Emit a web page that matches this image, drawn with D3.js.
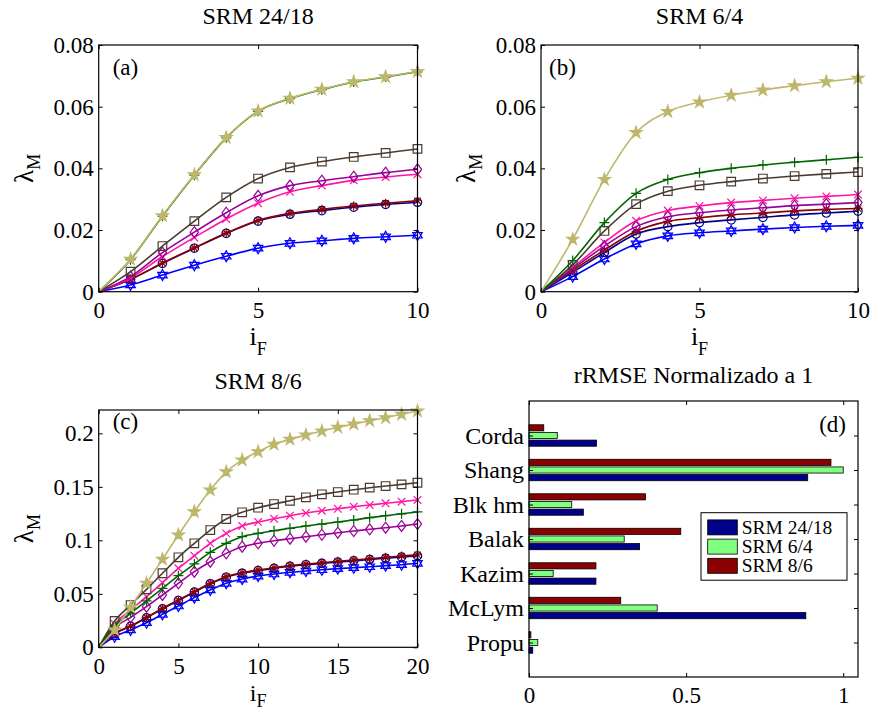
<!DOCTYPE html>
<html>
<head>
<meta charset="utf-8">
<script src="https://d3js.org/d3.v7.min.js"></script>
</head>
<body style="margin:0;background:#fff">
<svg id="chart" width="875" height="713" style="font-family:'Liberation Serif',serif"></svg>
<script>
// ---- data ----
var xTen = d3.range(0, 11);
var xTwenty = d3.range(0, 21);

// (a) SRM 24/18
var aHex     = [0, .0022, .0054, .0086, .0115, .0141, .0157, .0165, .0173, .0178, .0183];
var aCircle  = [0, .0040, .0092, .0141, .0189, .0229, .0251, .0263, .0274, .0283, .0290];
var aAster   = [0, .0040, .0093, .0142, .0190, .0231, .0254, .0267, .0278, .0287, .0295];
var aCross   = [0, .0044, .0114, .0176, .0236, .0287, .0324, .0344, .0361, .0372, .0381];
var aDiamond = [0, .0049, .0127, .0193, .0256, .0311, .0344, .0360, .0373, .0386, .0397];
var aSquare  = [0, .0065, .0148, .0229, .0306, .0367, .0403, .0422, .0437, .0450, .0463];
var aPlus    = [0, .0104, .0245, .0378, .0499, .0585, .0626, .0655, .0680, .0696, .0713];
var aPenta   = [0, .0105, .0246, .0379, .0500, .0586, .0627, .0656, .0681, .0697, .0714];

// (b) SRM 6/4
var bHex     = [0, .0049, .0106, .0155, .0181, .0191, .0197, .0203, .0208, .0212, .0215];
var bCircle  = [0, .0063, .0127, .0187, .0211, .0224, .0233, .0241, .0249, .0255, .0261];
var bAster   = [0, .0069, .0135, .0196, .0228, .0240, .0249, .0255, .0262, .0267, .0270];
var bCross   = [0, .0079, .0160, .0230, .0263, .0278, .0289, .0296, .0303, .0309, .0315];
var bDiamond = [0, .0074, .0148, .0211, .0243, .0256, .0265, .0272, .0279, .0284, .0289];
var bSquare  = [0, .0087, .0197, .0284, .0326, .0345, .0357, .0367, .0375, .0382, .0388];
var bPlus    = [0, .0101, .0224, .0319, .0364, .0386, .0400, .0411, .0420, .0428, .0436];
var bPenta   = [0, .0170, .0364, .0516, .0584, .0615, .0637, .0654, .0668, .0681, .0692];

// (c) SRM 8/6
var cHex     = [0, .0099, .0162, .0230, .0308, .0386, .0464, .0536, .0598, .0638, .0666, .0685, .0701, .0713, .0725, .0735, .0744, .0753, .0763, .0772, .0785];
var cCircle  = [0, .0128, .0196, .0276, .0360, .0438, .0516, .0594, .0655, .0692, .0717, .0738, .0757, .0772, .0784, .0796, .0808, .0820, .0832, .0843, .0854];
var cAster   = [0, .0131, .0199, .0280, .0364, .0442, .0520, .0598, .0660, .0697, .0722, .0744, .0763, .0779, .0791, .0804, .0816, .0828, .0841, .0853, .0865];
var cCross   = [0, .0218, .0349, .0473, .0604, .0738, .0856, .0972, .1065, .1134, .1171, .1202, .1230, .1255, .1277, .1295, .1314, .1330, .1346, .1361, .1377];
var cDiamond = [0, .0183, .0280, .0380, .0489, .0598, .0707, .0800, .0878, .0940, .0972, .0996, .1015, .1034, .1052, .1071, .1087, .1103, .1118, .1134, .1152];
var cSquare  = [0, .0246, .0395, .0542, .0692, .0841, .0972, .1096, .1199, .1262, .1305, .1339, .1370, .1402, .1430, .1451, .1473, .1492, .1507, .1523, .1538];
var cPlus    = [0, .0202, .0318, .0433, .0551, .0669, .0779, .0888, .0972, .1034, .1065, .1090, .1112, .1134, .1152, .1171, .1190, .1212, .1230, .1248, .1265];
var cPenta   = [0, .0162, .0374, .0598, .0822, .1050, .1267, .1470, .1640, .1750, .1828, .1897, .1944, .1984, .2021, .2056, .2087, .2118, .2146, .2178, .2208];

// (d) rRMSE, categories bottom -> top
var categories = ["Propu", "McLym", "Kazim", "Balak", "Blk hm", "Shang", "Corda"];
var rrmse2418 = [0.012, 0.881, 0.213, 0.352, 0.173, 0.887, 0.215];
var rrmse64   = [0.028, 0.408, 0.077, 0.303, 0.136, 1.000, 0.090];
var rrmse86   = [0.006, 0.292, 0.213, 0.483, 0.371, 0.961, 0.047];
var barNames  = ["SRM 24/18", "SRM 6/4", "SRM 8/6"];

// ---- styles (same order as the series lists) ----
var lineStyles = [
    { color: "#0000ff", marker: "hexagram" },
    { color: "#00008b", marker: "circle" },
    { color: "#8b0000", marker: "asterisk" },
    { color: "#ff14a5", marker: "cross" },
    { color: "#990099", marker: "diamond" },
    { color: "#4a3b30", marker: "square" },
    { color: "#006400", marker: "plus" },
    { color: "#bdb76b", marker: "pentagram" }
];
var barColors = ["#00008b", "#80ff80", "#8b0000"];
var serif = "'Liberation Serif', serif";
var tickFont = 23;

var svg = d3.select("#chart");

// marker path centred on 0,0
function markerPath(type) {
    var r;
    if (type == "hexagram") {
        r = 5.5;
        var tri = function (angs) {
            return "M" + angs.map(function (a) {
                var t = a * Math.PI / 180;
                return (r * Math.cos(t)).toFixed(2) + "," + (r * Math.sin(t)).toFixed(2);
            }).join("L") + "Z";
        };
        return tri([-90, 30, 150]) + tri([90, 210, 330]);
    }
    else if (type == "circle") {
        r = 4.2;
        return "M" + r + ",0A" + r + "," + r + " 0 1,1 " + (-r) + ",0A" + r + "," + r + " 0 1,1 " + r + ",0Z";
    }
    else if (type == "asterisk") {
        r = 4.5; var k = r * 0.7;
        return "M0," + (-r) + "V" + r + "M" + (-r) + ",0H" + r +
            "M" + (-k) + "," + (-k) + "L" + k + "," + k + "M" + k + "," + (-k) + "L" + (-k) + "," + k;
    }
    else if (type == "cross") {
        r = 3.8;
        return "M" + (-r) + "," + (-r) + "L" + r + "," + r + "M" + r + "," + (-r) + "L" + (-r) + "," + r;
    }
    else if (type == "diamond") {
        r = 5.5;
        return "M0," + (-r) + "L" + (r * 0.75) + ",0L0," + r + "L" + (-r * 0.75) + ",0Z";
    }
    else if (type == "square") {
        r = 4.3;
        return "M" + (-r) + "," + (-r) + "H" + r + "V" + r + "H" + (-r) + "Z";
    }
    else if (type == "pentagram") {
        return d3.symbol(d3.symbolStar, 45)();
    }
    else if (type == "plus") {
        r = 5;
        return "M0," + (-r) + "V" + r + "M" + (-r) + ",0H" + r;
    }
}

// frame + inward ticks on all four sides
function drawFrame(g, x, y, w, h, xTicks, yTicks, xFmt, yFmt) {
    var bottom = g.append("g").attr("transform", "translate(0," + h + ")")
        .call(d3.axisBottom(x).tickValues(xTicks).tickFormat(xFmt).tickSizeInner(-4).tickSizeOuter(0).tickPadding(10));
    var top = g.append("g")
        .call(d3.axisTop(x).tickValues(xTicks).tickFormat("").tickSizeInner(-4).tickSizeOuter(0));
    var left = g.append("g")
        .call(d3.axisLeft(y).tickValues(yTicks).tickFormat(yFmt).tickSizeInner(-4).tickSizeOuter(0).tickPadding(5));
    var right = g.append("g").attr("transform", "translate(" + w + ",0)")
        .call(d3.axisRight(y).tickValues(yTicks).tickFormat("").tickSizeInner(-4).tickSizeOuter(0));
    [bottom, top, left, right].forEach(function (a) {
        a.select(".domain").remove();
        a.selectAll("line").attr("stroke", "#000").attr("stroke-width", 1);
        a.attr("font-family", null).attr("font-size", null);
        a.selectAll("text").attr("fill", "#000").style("font-size", tickFont + "px");
    });
    g.append("rect").attr("width", w).attr("height", h)
        .attr("fill", "none").attr("stroke", "#000").attr("stroke-width", 1.2);
}

function linePanel(box, xs, seriesList, yMax, yTicks, yFmt, xTicks, title, tag, tagPos) {
    var w = box.right - box.left, h = box.bottom - box.top;
    var g = svg.append("g").attr("transform", "translate(" + box.left + "," + box.top + ")");
    var x = d3.scaleLinear().domain([0, xs[xs.length - 1]]).range([0, w]);
    var y = d3.scaleLinear().domain([0, yMax]).range([h, 0]);

    g.append("rect").attr("width", w).attr("height", h).attr("fill", "#fff");

    var line = d3.line()
        .x(function (d, i) { return x(xs[i]); })
        .y(function (d) { return y(d); })
        .curve(d3.curveMonotoneX);

    seriesList.forEach(function (vals, si) {
        var st = lineStyles[si];
        g.append("path").datum(vals)
            .attr("d", line)
            .attr("fill", "none")
            .attr("stroke", st.color)
            .attr("stroke-width", 1.6);
        g.selectAll(".m" + si).data(vals.slice(1))
            .enter().append("path")
            .attr("class", "m" + si)
            .attr("transform", function (d, i) { return "translate(" + x(xs[i + 1]) + "," + y(d) + ")"; })
            .attr("d", markerPath(st.marker))
            .attr("fill", st.marker == "pentagram" ? st.color : "none")
            .attr("stroke", st.color)
            .attr("stroke-width", 1.2);
    });

    drawFrame(g, x, y, w, h, xTicks, yTicks, d3.format("d"), yFmt);

    // titles and labels
    svg.append("text").attr("x", (box.left + box.right) / 2).attr("y", box.top - 21)
        .attr("text-anchor", "middle").style("font-size", "24px").text(title);
    g.append("text").attr("x", tagPos[0]).attr("y", tagPos[1]).style("font-size", "23px").text(tag);

    var yl = svg.append("text")
        .attr("transform", "translate(" + (box.left - 66) + "," + ((box.top + box.bottom) / 2) + ") rotate(-90)")
        .attr("text-anchor", "middle").style("font-size", "27px");
    yl.append("tspan").text("λ");
    yl.append("tspan").attr("dy", 7).style("font-size", "18px").text("M");

    var xl = svg.append("text")
        .attr("x", (box.left + box.right) / 2).attr("y", box.bottom + box.xlab)
        .attr("text-anchor", "middle").style("font-size", box.xfs + "px");
    xl.append("tspan").text("i");
    xl.append("tspan").attr("dy", box.sub).style("font-size", "18px").text("F");
}

function trimZero(v) { return v === 0 ? "0" : String(+v.toFixed(2)); }
function twoDec(v) { return v === 0 ? "0" : v.toFixed(2); }

linePanel({ left: 98.7, right: 417.5, top: 45, bottom: 291.7, xlab: 53, sub: 10, xfs: 26 }, xTen,
    [aHex, aCircle, aAster, aCross, aDiamond, aSquare, aPlus, aPenta],
    0.08, [0, 0.02, 0.04, 0.06, 0.08], twoDec,
    [0, 5, 10], "SRM 24/18", "(a)", [14, 30]);

linePanel({ left: 541, right: 858, top: 45, bottom: 291.7, xlab: 53, sub: 10, xfs: 26 }, xTen,
    [bHex, bCircle, bAster, bCross, bDiamond, bSquare, bPlus, bPenta],
    0.08, [0, 0.02, 0.04, 0.06, 0.08], twoDec,
    [0, 5, 10], "SRM 6/4", "(b)", [8, 30]);

linePanel({ left: 98.7, right: 417.5, top: 410, bottom: 647.3, xlab: 54, sub: 6, xfs: 24 }, xTwenty,
    [cHex, cCircle, cAster, cCross, cDiamond, cSquare, cPlus, cPenta],
    0.2218, [0, 0.05, 0.1, 0.15, 0.2], trimZero,
    [0, 5, 10, 15, 20], "SRM 8/6", "(c)", [14, 19]);

// ---- (d) grouped horizontal bars ----
var dBox = { left: 529, right: 858, top: 401, bottom: 677 };
var dW = dBox.right - dBox.left, dH = dBox.bottom - dBox.top;
var dg = svg.append("g").attr("transform", "translate(" + dBox.left + "," + dBox.top + ")");
var xd = d3.scaleLinear().domain([0, 1.047]).range([0, dW]);
var yd = d3.scaleLinear().domain([0, categories.length + 1]).range([dH, 0]);
var barSets = [rrmse2418, rrmse64, rrmse86];
var slot = 0.222, barH = 0.178;

barSets.forEach(function (vals, si) {
    dg.selectAll(".bar" + si).data(vals)
        .enter().append("rect")
        .attr("class", "bar" + si)
        .attr("x", xd(0))
        .attr("y", function (d, i) { return yd(i + 1 + (si - 1) * slot + barH / 2); })
        .attr("width", function (d) { return xd(d) - xd(0); })
        .attr("height", yd(0) - yd(barH))
        .attr("fill", barColors[si])
        .attr("stroke", "#000")
        .attr("stroke-width", 0.8);
});

drawFrame(dg, xd, yd, dW, dH, [0, 0.5, 1], d3.range(1, categories.length + 1),
    function (v) { return v === 0 ? "0" : String(v); },
    function (v) { return categories[v - 1]; });
dg.selectAll("text").filter(function () { return categories.indexOf(this.textContent) >= 0; })
    .style("font-size", "24px");

svg.append("text").attr("x", (dBox.left + dBox.right) / 2).attr("y", 383)
    .attr("text-anchor", "middle").style("font-size", "24px").text("rRMSE Normalizado a 1");
dg.append("text").attr("x", dW - 12).attr("y", 31).attr("text-anchor", "end")
    .style("font-size", "23px").text("(d)");

// legend
var lg = dg.append("g").attr("transform", "translate(" + (701 - dBox.left) + "," + (512.7 - dBox.top) + ")");
lg.append("rect").attr("width", 146).attr("height", 67.5)
    .attr("fill", "#fff").attr("stroke", "#000").attr("stroke-width", 1);
barNames.forEach(function (name, i) {
    var cy = 14.7 + i * 19.2;
    lg.append("rect").attr("x", 6.7).attr("y", cy - 7.5).attr("width", 29.6).attr("height", 15)
        .attr("fill", barColors[i]).attr("stroke", "#000").attr("stroke-width", 0.8);
    lg.append("text").attr("x", 40.7).attr("y", cy + 6.5).style("font-size", "19.5px").text(name);
});

// serif face on every text element
svg.selectAll("text").attr("font-family", "Liberation Serif").style("font-family", serif);
</script>
</body>
</html>
